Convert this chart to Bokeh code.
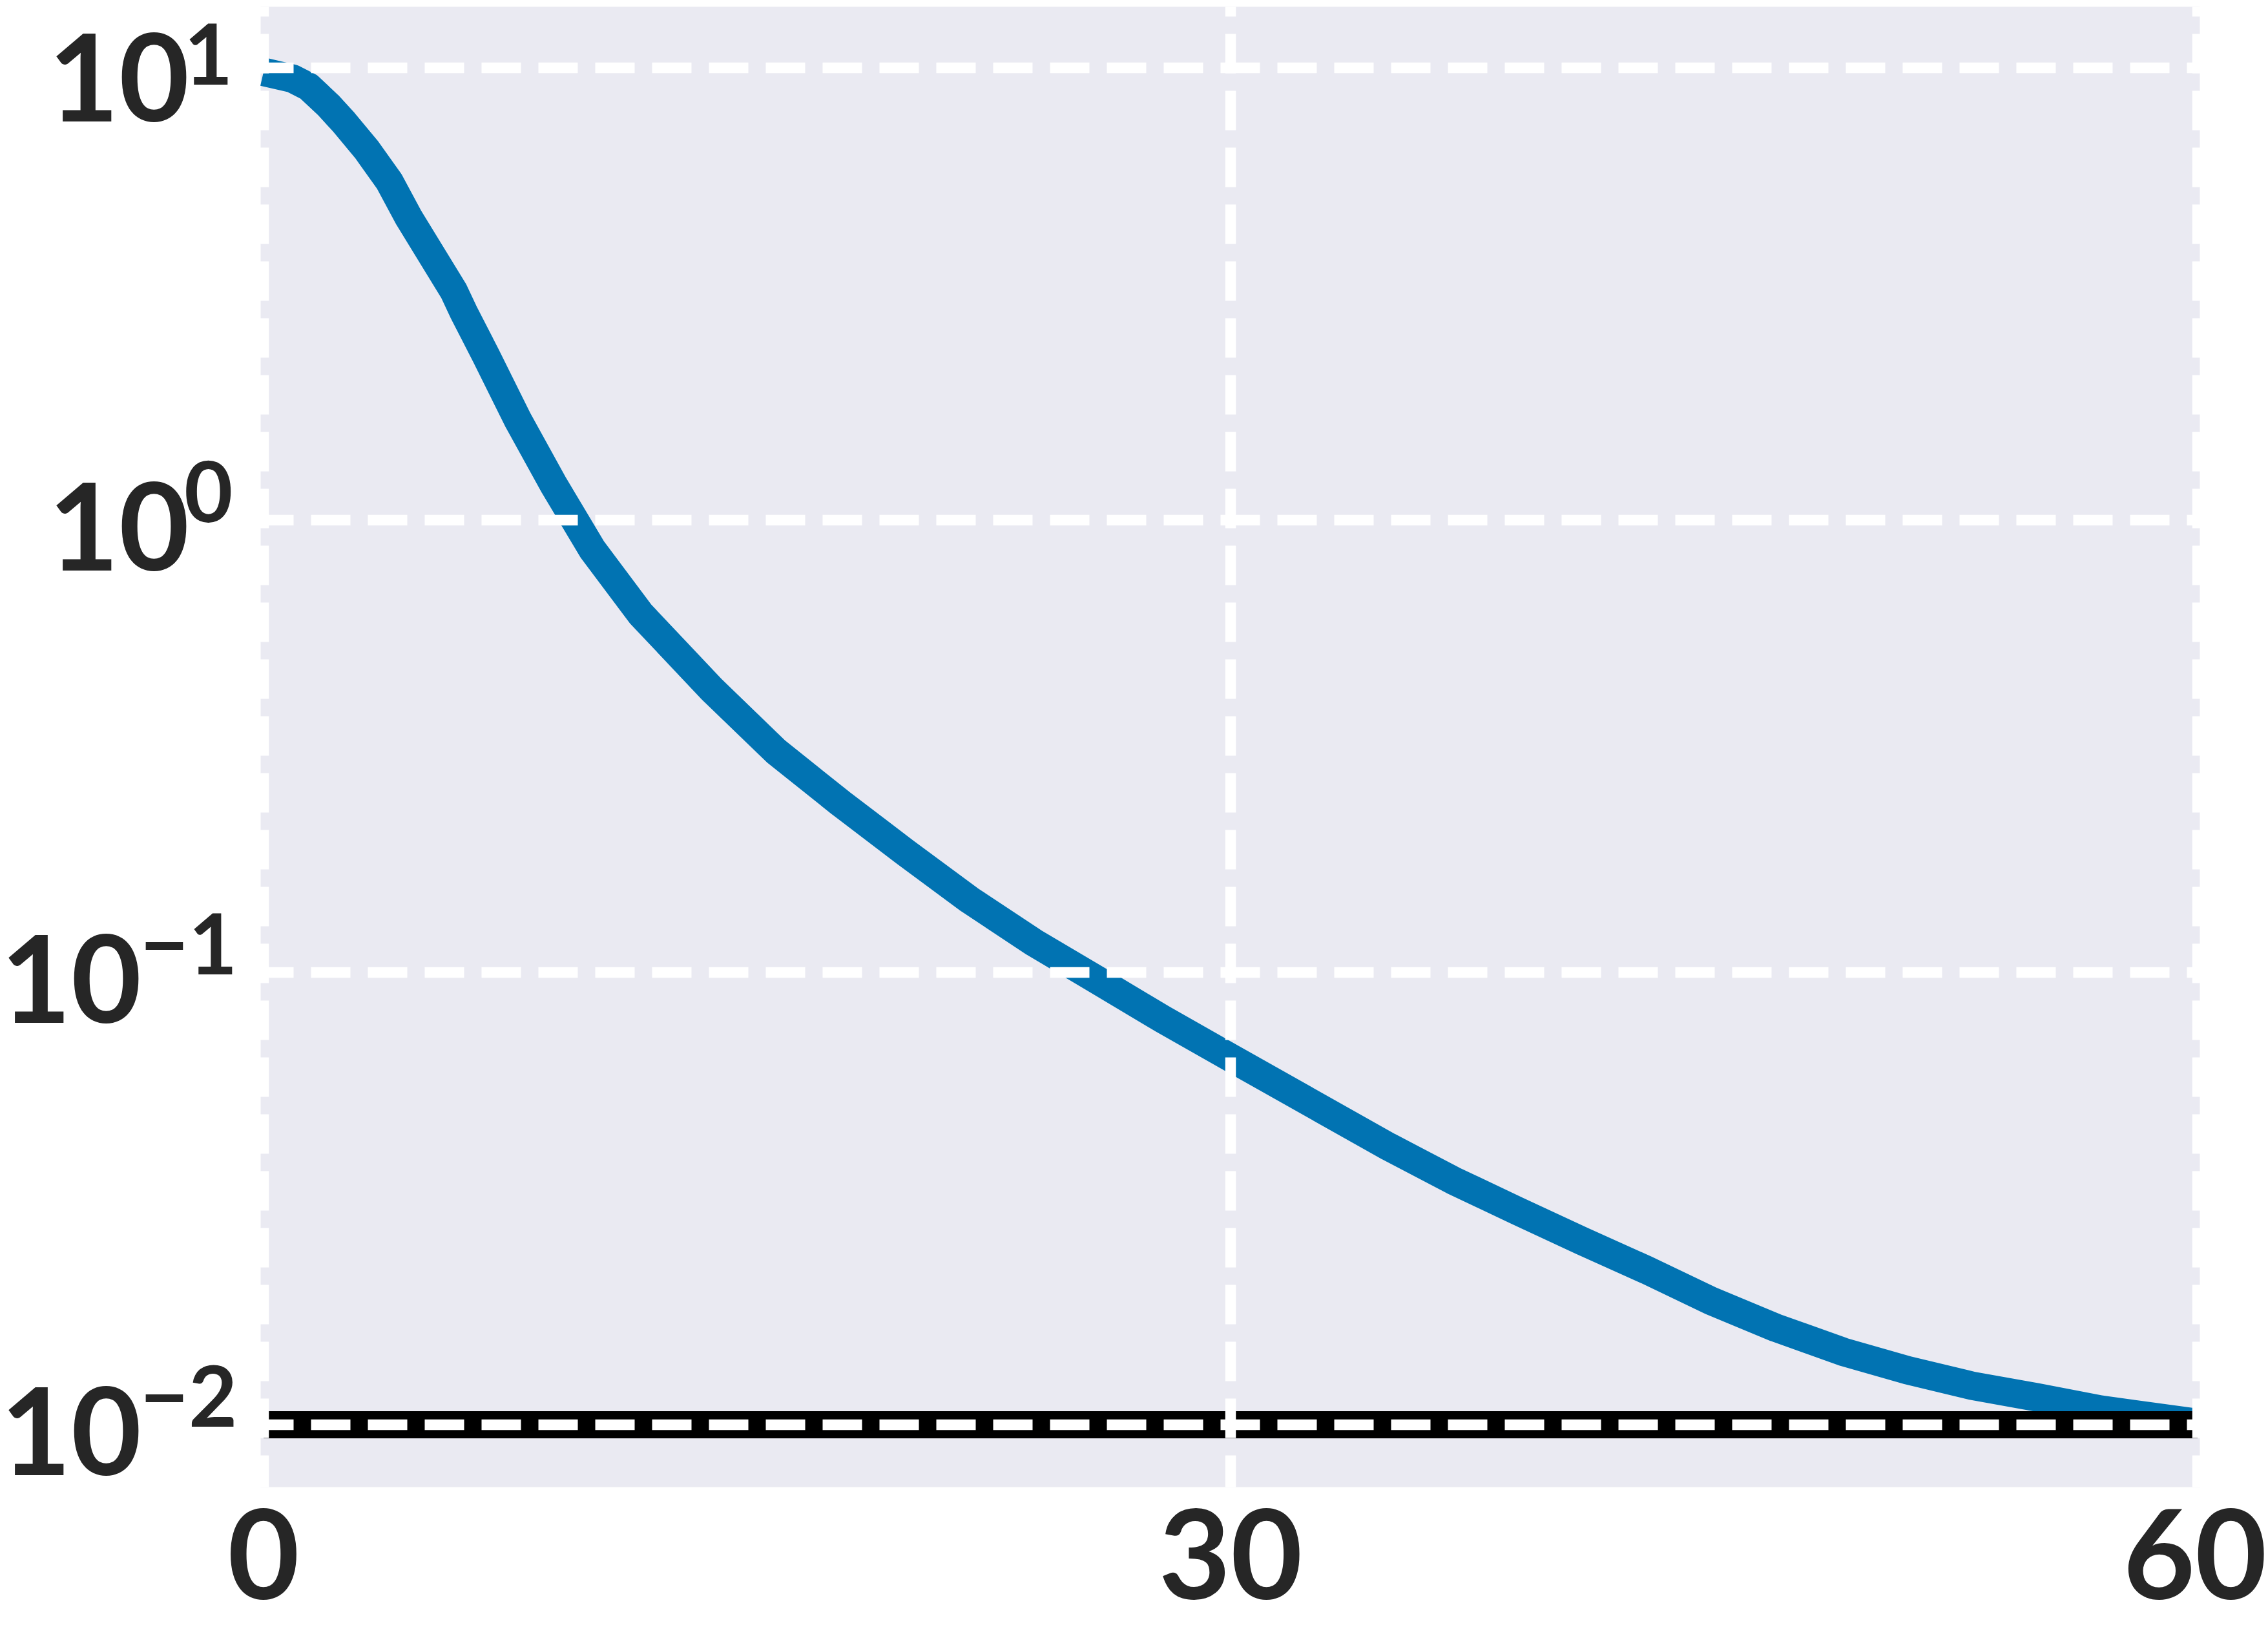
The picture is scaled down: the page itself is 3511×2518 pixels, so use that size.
from bokeh.plotting import figure
from bokeh.models import Range1d, Label
from bokeh.embed import file_html
from bokeh.resources import INLINE

# ---- data ----
iterations = [0, 0.9, 1.4, 2.0, 2.5, 3.2, 3.9, 4.5, 5.9, 6.2, 6.9, 7.9, 9.0, 10.2,
              11.7, 13.9, 15.9, 17.9, 19.9, 21.9, 23.9, 25.9, 27.9, 30.0, 34.9,
              36.9, 38.9, 40.9, 42.9, 44.9, 46.9, 49.0, 51.0, 53.0, 55.0, 57.0, 60.0]
values = [9.8, 9.47, 9.08, 8.28, 7.57, 6.59, 5.61, 4.67, 3.21, 2.89, 2.31, 1.66,
          1.197, 0.861, 0.620, 0.423, 0.308, 0.237, 0.1846, 0.1448, 0.1165,
          0.0959, 0.0788, 0.0648, 0.0412, 0.0347, 0.0297, 0.0255, 0.0220, 0.0188,
          0.0164, 0.0145, 0.0132, 0.0122, 0.0115, 0.0108, 0.0101]
target_x = [0, 60]
target_y = [0.01, 0.01]
x_ticks = [0, 30, 60]
x_tick_labels = ["0", "30", "60"]
y_ticks = [0.01, 0.1, 1, 10]
y_tick_base = ["10", "10", "10", "10"]
y_tick_exponents = ["\u22122", "\u22121", "0", "1"]

# ---- layout (axes limits and the canvas extent around them) ----
X0, X1 = -0.0902, 60.070         # plotting-area limits
Y0, Y1 = 0.0072792, 13.646
XC0, XC1 = -8.1663, 62.194       # whole canvas in data units
YC0, YC1 = 0.0035657, 14.105

BG = "#EAEAF2"
FONT = "Lato"
TEXT_COLOR = "#262626"

p = figure(width=3511, height=2518,
           x_range=Range1d(XC0, XC1), y_range=Range1d(YC0, YC1),
           y_axis_type="log", output_backend="svg", toolbar_location=None,
           min_border=0, min_border_left=0, min_border_right=0,
           min_border_top=0, min_border_bottom=0,
           background_fill_color="white", border_fill_color="white",
           outline_line_color=None)
p.xaxis.visible = False
p.yaxis.visible = False
p.xgrid.visible = False
p.ygrid.visible = False

# axes background
p.quad(left=[X0], right=[X1], bottom=[Y0], top=[Y1],
       fill_color=BG, line_color=None)

# data
p.line(iterations, values, line_color="#0173B2", line_width=44, line_join="round")
p.line(target_x, target_y, line_color="black", line_width=42)

# grid drawn on top (white dashed)
p.segment(x0=x_ticks, y0=[Y0] * len(x_ticks), x1=x_ticks, y1=[Y1] * len(x_ticks),
          line_color="white", line_width=16.5, line_dash="61 27",
          line_dash_offset=12)
p.segment(x0=[X0] * len(y_ticks), y0=y_ticks, x1=[X1] * len(y_ticks), y1=y_ticks,
          line_color="white", line_width=16.5, line_dash="61 27",
          line_dash_offset=10)

# x tick labels
for t, lab in zip(x_ticks, x_tick_labels):
    shift = -4 if t == x_ticks[-1] else 0
    p.add_layout(Label(x=t, y=Y0, x_units="data", y_units="data", text=lab,
                       text_align="center", text_baseline="alphabetic",
                       x_offset=shift, y_offset=-103,
                       text_font=FONT, text_font_size="192px",
                       text_font_style="bold", text_color=TEXT_COLOR))

# y tick labels: base 10 with raised exponent
BASE_SIZE, EXP_SIZE = 188, 130
for t, b, e in zip(y_ticks, y_tick_base, y_tick_exponents):
    if len(e) == 1:
        exp_off, base_off = -43, -110.4
    else:
        exp_off, base_off = -36, -184.5
    # keep the topmost label inside the canvas
    exp_dy, base_dy = (23, 5) if t == max(y_ticks) else (0, 0)
    p.add_layout(Label(x=X0, y=t, x_units="data", y_units="data", text=e,
                       text_align="right", text_baseline="alphabetic",
                       x_offset=exp_off, y_offset=44.5 - exp_dy,
                       text_font=FONT, text_font_size=f"{EXP_SIZE}px",
                       text_font_style="bold", text_color=TEXT_COLOR))
    p.add_layout(Label(x=X0, y=t, x_units="data", y_units="data", text=b,
                       text_align="right", text_baseline="alphabetic",
                       x_offset=base_off, y_offset=-10.4 - base_dy,
                       text_font=FONT, text_font_size=f"{BASE_SIZE}px",
                       text_font_style="bold", text_color=TEXT_COLOR))

open("out.html", "w").write(file_html(p, INLINE, "plot"))
